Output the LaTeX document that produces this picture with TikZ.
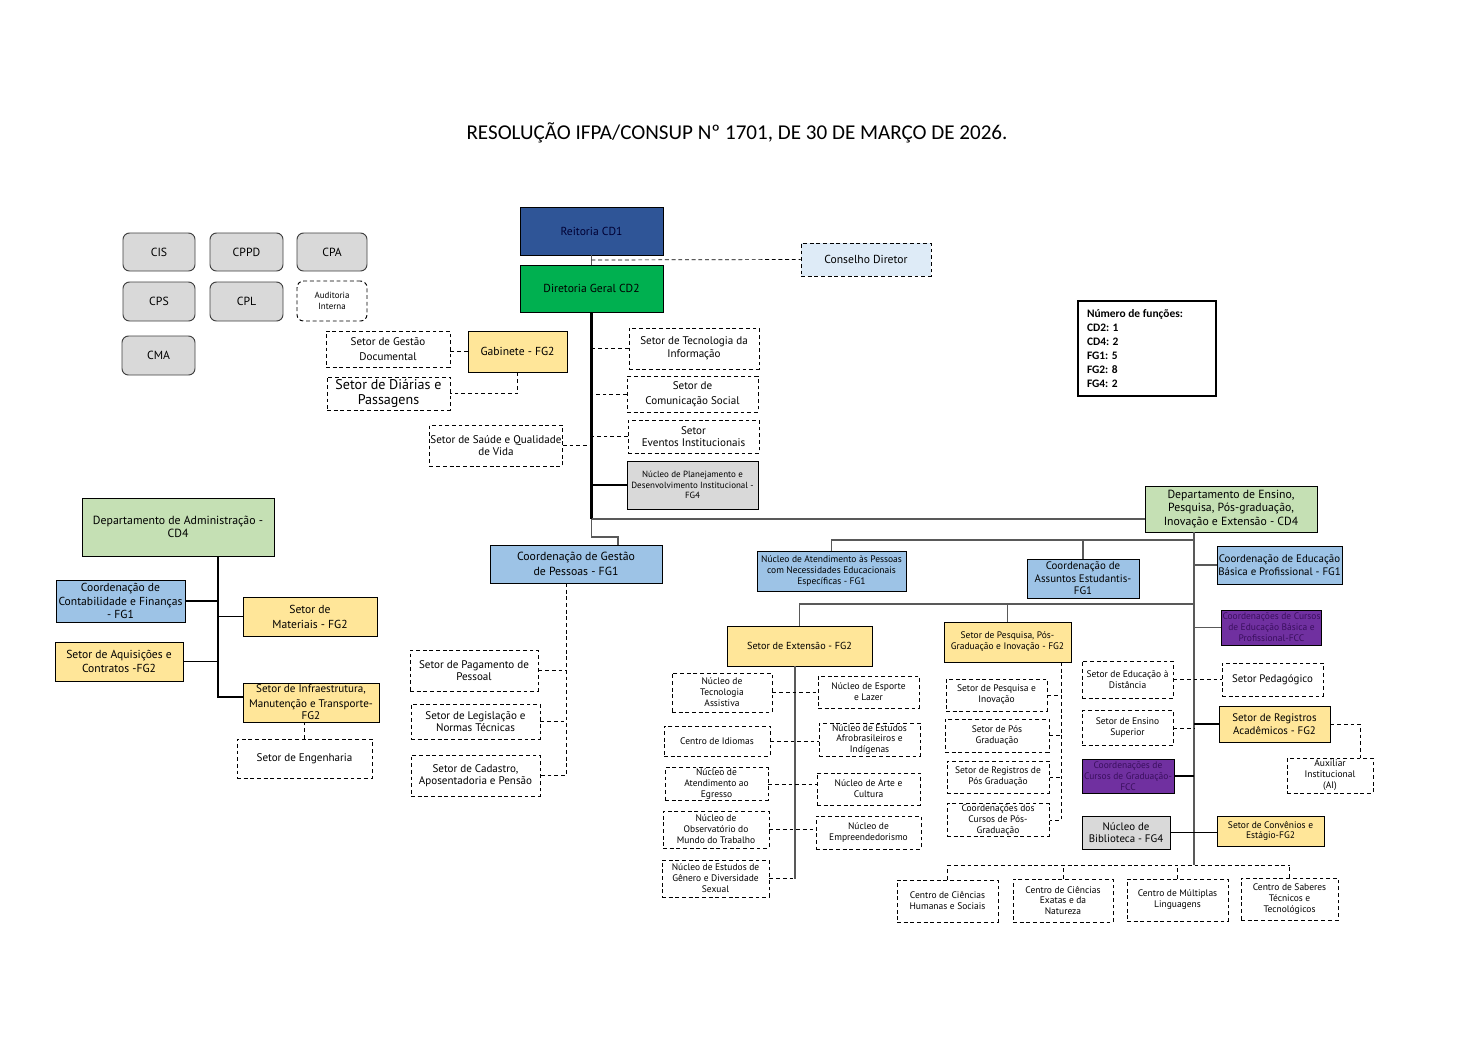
\documentclass[tikz,border=0pt]{standalone}
\usepackage{fontspec}
\setmainfont{PT Sans}
\newfontfamily\calfont{Carlito}
\usetikzlibrary{positioning}
\definecolor{azulescuro}{HTML}{2F5597}
\definecolor{verde}{HTML}{00B050}
\definecolor{verdeclaro}{HTML}{C5E0B4}
\definecolor{azul}{HTML}{9DC3E6}
\definecolor{azulclaro}{HTML}{DEEBF7}
\definecolor{amarelo}{HTML}{FFE699}
\definecolor{cinza}{HTML}{D9D9D9}
\definecolor{roxo}{HTML}{7030A0}
\definecolor{roxotexto}{HTML}{3A0F5E}
\definecolor{linha}{HTML}{595959}

\tikzset{
  dsh/.style={dash pattern=on 2.2pt off 1.6pt},
  sz/.style 2 args={minimum width=#1*0.2mm, minimum height=#2*0.2mm},
  caixa/.style={draw, align=center, inner sep=0.5pt, line width=0.55pt},
  tracejada/.style={caixa, dsh, fill=white},
  cheia/.style={caixa, fill=#1},
  redonda/.style={caixa, rounded corners=1.3mm, fill=cinza, draw=black!75},
  f45/.style={font=\fontsize{5.1}{5.9}\selectfont},
  f5/.style={font=\fontsize{5.4}{6.2}\selectfont},
  f58/.style={font=\fontsize{5.8}{6.7}\selectfont},
  f62/.style={font=\fontsize{6.2}{7.1}\selectfont},
  f55/.style={font=\fontsize{6.3}{7.2}\selectfont},
  f6/.style={font=\fontsize{6.6}{7.6}\selectfont},
  f65/.style={font=\fontsize{6.7}{7.8}\selectfont},
  f7/.style={font=\fontsize{8}{8.8}\selectfont},
  lig/.style={draw=linha, line width=0.6pt},
  tronco/.style={draw=black, line width=1.2pt},
}

\begin{document}
\begin{tikzpicture}[x=0.2mm, y=-0.2mm]
  \useasboundingbox[fill=white] (0,0) rectangle (1463,1043);

  \node[font=\calfont\fontsize{12}{14}\selectfont] (titulo) at (737,133)
    {RESOLUÇÃO IFPA/CONSUP Nº 1701, DE 30 DE MARÇO DE 2026.};

  % comissoes
  \node[redonda, sz={72}{38}, f65] (cis) at (159,252) {CIS};
  \node[redonda, sz={73}{38}, f65] (cppd) at (246.5,252) {CPPD};
  \node[redonda, sz={70}{38}, f65] (cpa) at (332,252) {CPA};
  \node[redonda, sz={72}{39}, f65] (cps) at (159,301.5) {CPS};
  \node[redonda, sz={73}{39}, f65] (cpl) at (246.5,301.5) {CPL};
  \node[redonda, dsh, fill=white, draw=black, sz={70}{40}, f45] (aud) at (332,301) {Auditoria\\Interna};
  \node[redonda, sz={73}{39}, f65] (cma) at (158.5,355.5) {CMA};

  % reitoria e direcao geral
  \node[cheia=azulescuro, sz={143}{48}, f6, text=black!80!blue] (reit) at (591.5,231) {Reitoria CD1};
  \node[cheia=verde, sz={143}{47}, f6] (dg) at (591.5,288.5) {Diretoria Geral CD2};
  \node[tracejada, fill=azulclaro, sz={130}{33}, f6] (cons) at (866,259.5) {Conselho Diretor};

  \node[cheia=amarelo, sz={99}{41}, f6] (gab) at (517.5,351.5) {Gabinete - FG2};
  \node[tracejada, sz={124}{36}, f55] (sgd) at (388,349) {Setor de Gestão\\[1pt]Documental};
  \node[tracejada, sz={123}{33}, f7] (sdp) at (388.5,393.5) {Setor de Diárias e\\Passagens};
  \node[tracejada, sz={132}{41}, f55] (ssq) at (496,445.5) {Setor de Saúde e Qualidade\\de Vida};
  \node[tracejada, sz={130}{41}, f55] (sti) at (694,348.5) {Setor de Tecnologia da\\Informação};
  \node[tracejada, sz={131}{36}, f55] (scs) at (692.5,394) {Setor de\\[1pt]Comunicação Social};
  \node[tracejada, sz={131}{33}, f55] (sei) at (693.5,436.5) {Setor\\Eventos Institucionais};
  \node[cheia=cinza, sz={131}{48}, f45] (npdi) at (692.5,485) {Núcleo de Planejamento e\\Desenvolvimento Institucional -\\FG4};

  \node[draw, line width=0.6pt, minimum height=95*0.2mm, text width=120*0.2mm, inner xsep=9*0.2mm,
    align=left, font=\calfont\bfseries\fontsize{6.5}{8}\selectfont] (funcoes) at (1147,348.5)
    {\spaceskip=0pt\xspaceskip=0pt Número de funções:\\CD2: 1\\CD4: 2\\FG1: 5\\FG2: 8\\FG4: 2};

  % administracao
  \node[cheia=verdeclaro, sz={192}{58}, f65] (dad) at (178,527) {Departamento de Administração -\\CD4};
  \node[cheia=azul, sz={129}{42}, f6] (ccf) at (120.5,601) {Coordenação de\\Contabilidade e Finanças\\- FG1};
  \node[cheia=amarelo, sz={134}{39}, f6] (smat) at (310,616.5) {Setor de\\[1pt]Materiais - FG2};
  \node[cheia=amarelo, sz={128}{39}, f6] (saq) at (119,661.5) {Setor de Aquisições e\\Contratos -FG2};
  \node[cheia=amarelo, sz={136}{39}, f55] (sinf) at (311,702.5) {Setor de Infraestrutura,\\[1pt]Manutenção e Transporte-\\FG2};
  \node[tracejada, sz={135}{39}, f55] (seng) at (304.5,758.5) {Setor de Engenharia};

  % gestao de pessoas
  \node[cheia=azul, sz={172}{38}, f65] (cgp) at (576,564) {Coordenação de Gestão\\[1pt]de Pessoas - FG1};
  \node[tracejada, sz={128}{41}, f55] (spp) at (474,670.5) {Setor de Pagamento de\\Pessoal};
  \node[tracejada, sz={129}{35}, f55] (sln) at (475.5,721.5) {Setor de Legislação e\\Normas Técnicas};
  \node[tracejada, sz={129}{41}, f55] (scap) at (475.5,775.5) {Setor de Cadastro,\\Aposentadoria e Pensão};

  % ensino
  \node[cheia=verdeclaro, sz={172}{46}, f65] (dep) at (1231,509) {Departamento de Ensino,\\Pesquisa, Pós-graduação,\\Inovação e Extensão - CD4};
  \node[cheia=azul, sz={149}{40}, f5] (nap) at (831.5,571) {Núcleo de Atendimento às Pessoas\\com Necessidades Educacionais\\Específicas - FG1};
  \node[cheia=azul, sz={112}{39}, f62] (cae) at (1083,578.5) {Coordenação de\\Assuntos Estudantis-\\FG1};
  \node[cheia=azul, sz={125}{38}, f62] (cebp) at (1279.5,565) {Coordenação de Educação\\Básica e Profissional - FG1};
  \node[cheia=roxo, sz={99}{35}, f5, text=roxotexto] (ccebp) at (1271.5,627.5) {Coordenações de Cursos\\de Educação Básica e\\Profissional-FCC};
  \node[cheia=amarelo, sz={145}{40}, f58] (sext) at (799.5,646) {Setor de Extensão - FG2};
  \node[cheia=amarelo, sz={127}{40}, f5] (spes) at (1007.5,642) {Setor de Pesquisa, Pós-\\Graduação e Inovação - FG2};

  \node[tracejada, sz={100}{39}, f5] (nta) at (722,692.5) {Núcleo de\\Tecnologia\\Assistiva};
  \node[tracejada, sz={101}{32}, f5] (nel) at (868.5,692) {Núcleo de Esporte\\e Lazer};
  \node[tracejada, sz={106}{30}, f5] (cid) at (717,741) {Centro de Idiomas};
  \node[tracejada, sz={101}{33}, f5] (nea) at (869.5,739.5) {Núcleo de Estudos\\Afrobrasileiros e\\Indígenas};
  \node[tracejada, sz={103}{32}, f5] (nae) at (716.5,784) {Núcleo de\\Atendimento ao\\Egresso};
  \node[tracejada, sz={103}{32}, f5] (nac) at (868.5,789) {Núcleo de Arte e\\Cultura};
  \node[tracejada, sz={106}{37}, f5] (nomt) at (716,829.5) {Núcleo de\\Observatório do\\Mundo do Trabalho};
  \node[tracejada, sz={105}{33}, f5] (nemp) at (868.5,832.5) {Núcleo de\\Empreendedorismo};
  \node[tracejada, sz={107}{37}, f5] (neg) at (715.5,878.5) {Núcleo de Estudos de\\Gênero e Diversidade\\Sexual};

  \node[tracejada, sz={101}{32}, f5] (spi) at (996.5,695) {Setor de Pesquisa e\\Inovação};
  \node[tracejada, sz={104}{33}, f5] (spg) at (997,735.5) {Setor de Pós\\Graduação};
  \node[tracejada, sz={102}{32}, f5] (srpg) at (998,777) {Setor de Registros de\\Pós Graduação};
  \node[tracejada, sz={102}{32}, f5] (ccpg) at (998,820) {Coordenações dos\\Cursos de Pós-\\Graduação};

  \node[tracejada, sz={91}{37}, f5] (sead) at (1127.5,679.5) {Setor de Educação à\\Distância};
  \node[tracejada, sz={101}{33}, f62] (sped) at (1272.5,679.5) {Setor Pedagógico};
  \node[tracejada, sz={91}{35}, f5] (sesu) at (1127.5,728) {Setor de Ensino\\Superior};
  \node[cheia=amarelo, sz={111}{36}, f62] (sra) at (1274.5,724) {Setor de Registros\\Acadêmicos - FG2};
  \node[tracejada, sz={86}{35}, f5] (aux) at (1330,775.5) {Auxiliar\\Institucional\\(AI)};
  \node[cheia=roxo, sz={92}{34}, f5, text=roxotexto] (ccg) at (1128,776) {Coordenações de\\Cursos de Graduação-\\FCC};
  \node[cheia=cinza, sz={88}{33}, f62] (nbib) at (1126,832.5) {Núcleo de\\Biblioteca - FG4};
  \node[cheia=amarelo, sz={107}{30}, f5] (sconv) at (1270.5,831) {Setor de Convênios e\\Estágio-FG2};

  \node[tracejada, sz={101}{42}, f5] (cchs) at (947.5,901) {Centro de Ciências\\Humanas e Sociais};
  \node[tracejada, sz={100}{43}, f5] (ccen) at (1063,900.5) {Centro de Ciências\\Exatas e da\\Natureza};
  \node[tracejada, sz={101}{42}, f5] (cml) at (1177.5,900) {Centro de Múltiplas\\Linguagens};
  \node[tracejada, sz={97}{42}, f5] (cstt) at (1289.5,899) {Centro de Saberes\\Técnicos e\\Tecnológicos};

  % ligacoes do topo
  \coordinate (rd) at (591.5,260);
  \coordinate (jA) at (591.5,519);
  \coordinate (jB) at (591.5,537);
  \coordinate (jC) at (618,545);
  \draw[lig] (reit) -- (dg);
  \draw[dsh] (rd) -- (cons.west);
  \draw[tronco] (dg.south) -- (jA);
  \draw[lig] (jA) -- (jB) -| (jC);
  \draw[lig] (jA) -- (jA -| dep.west);
  \draw[dsh] (gab.west) -- (gab.west -| sgd.east);
  \draw[dsh] (gab.south) |- (sdp.east);
  \draw[dsh] (ssq.east) -- (ssq.east -| dg.south);
  \draw[dsh] (sti.west) -- (sti.west -| dg.south);
  \draw[dsh] (scs.west) -- (scs.west -| dg.south);
  \draw[dsh] (sei.west) -- (sei.west -| dg.south);
  \draw[line width=0.7pt] (npdi.west) -- (npdi.west -| dg.south);

  % ligacoes da administracao
  \coordinate (aTop) at (218,556);
  \coordinate (aBot) at (218,697);
  \draw[line width=0.6pt] (aTop) -- (aBot) -- (aBot -| sinf.west);
  \draw[line width=0.6pt] (ccf.east) -- (ccf.east -| aTop);
  \draw[line width=0.6pt] (smat.west) -- (smat.west -| aTop);
  \draw[line width=0.6pt] (saq.east) -- (saq.east -| aTop);
  \draw[dsh] (seng.north) -- (seng.north |- sinf.south);

  % ligacoes de gestao de pessoas
  \coordinate (gTop) at (566,583);
  \draw[dsh] (gTop) |- (scap.east);
  \draw[dsh] (spp.east) -- (spp.east -| gTop);
  \draw[dsh] (sln.east) -- (sln.east -| gTop);

  % ligacoes do ensino
  \coordinate (eTop) at (1194,532);
  \coordinate (eBot) at (1194,865);
  \coordinate (e1) at (1194,540);
  \coordinate (e2) at (1194,604);
  \draw[lig] (eTop) -- (eBot);
  \draw[lig] (e1) -| (nap.north);
  \draw[lig] (cae.north) -- (cae.north |- e1);
  \draw[lig] (cebp.west) -- (cebp.west -| eTop);
  \draw[lig] (e2) -| (sext.north);
  \draw[lig] (spes.north) -- (spes.north |- e2);
  \draw[lig] (ccebp.west) -- (ccebp.west -| eTop);
  \draw[dsh] (sead.east) -- (sped.west);
  \draw[dsh] (sesu.east) -- (sesu.east -| eTop);
  \draw[line width=0.6pt] (sra.west) -- (sra.west -| eTop);
  \draw[dsh] (sra.east) -| ([xshift=6mm]aux.north);
  \draw[line width=0.6pt] (ccg.east) -- (ccg.east -| eTop);
  \draw[line width=0.6pt] (nbib.east) -- (nbib.east -| sconv.west);

  % extensao
  \coordinate (xTop) at (795,666);
  \draw[lig] (xTop) -- (xTop |- neg.east);
  \draw[dsh] (neg.east) -- (neg.east -| xTop);
  \draw[dsh] (nta.east) -- (nta.east -| nel.west);
  \draw[dsh] (cid.east) -- (cid.east -| nea.west);
  \draw[dsh] (nae.east) -- (nae.east -| nac.west);
  \draw[dsh] (nomt.east) -- (nomt.east -| nemp.west);

  % pesquisa
  \coordinate (pTop) at (1061,662);
  \draw[dsh] (pTop) |- (ccpg.east);
  \draw[dsh] (spi.east) -- (spi.east -| pTop);
  \draw[dsh] (spg.east) -- (spg.east -| pTop);
  \draw[dsh] (srpg.east) -- (srpg.east -| pTop);

  % centros
  \draw[dsh] (cchs.north |- eBot) -- (cstt.north |- eBot);
  \foreach \c in {cchs, ccen, cml, cstt}{
    \draw[dsh] (\c.north) -- (\c.north |- eBot);
  }
\end{tikzpicture}
\end{document}
